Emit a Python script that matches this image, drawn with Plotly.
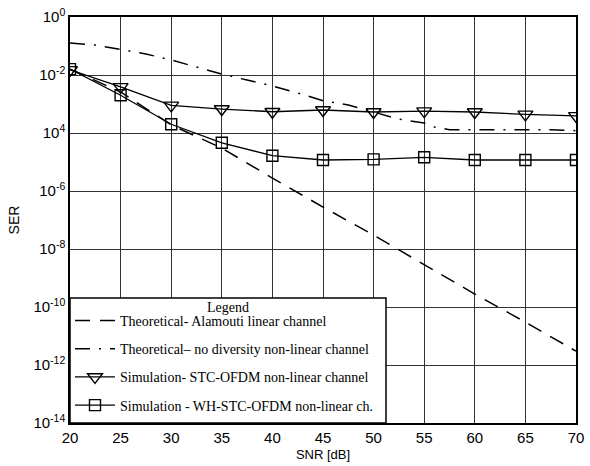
import plotly.graph_objects as go

snr = [20, 25, 30, 35, 40, 45, 50, 55, 60, 65, 70]
ser_alamouti = [1.6e-2, 2.6e-3, 1.9e-4, 3e-5, 2.8e-6, 2.8e-7, 3e-8, 2.8e-9, 2.8e-10, 3e-11, 3e-12]

snr_nodiv = [20, 22.5, 25, 27.5, 30, 32.5, 35, 37.5, 40, 42.5, 45, 47.5, 50, 52.5, 55, 56, 57.5, 60, 62.5, 65, 67.5, 70]
ser_nodiv = [1.26e-1, 1.08e-1, 7.6e-2, 5.3e-2, 3.3e-2, 1.9e-2, 1.07e-2, 6.7e-3, 4.2e-3, 2.4e-3, 1.3e-3, 9.3e-4,
             5.3e-4, 3.0e-4, 2.2e-4, 1.6e-4, 1.3e-4, 1.3e-4, 1.25e-4, 1.3e-4, 1.3e-4, 1.2e-4]

ser_stc = [1.5e-2, 3.9e-3, 9.0e-4, 6.7e-4, 5.4e-4, 6.2e-4, 5.3e-4, 5.7e-4, 5.3e-4, 4.4e-4, 3.9e-4]
ser_wh = [1.6e-2, 2.0e-3, 2.0e-4, 4.6e-5, 1.65e-5, 1.17e-5, 1.23e-5, 1.45e-5, 1.17e-5, 1.17e-5, 1.17e-5]

names = [
    "Theoretical- Alamouti linear channel",
    "Theoretical\u2013 no diversity non-linear channel",
    "Simulation- STC-OFDM non-linear channel",
    "Simulation - WH-STC-OFDM non-linear ch.",
]
legend_title = "Legend"

y_tickvals = [1e0, 1e-2, 1e-4, 1e-6, 1e-8, 1e-10, 1e-12, 1e-14]
y_ticktext = ["10<sup>0</sup>", "10<sup>-2</sup>", "10<sup>4</sup>", "10<sup>-6</sup>",
              "10<sup>-8</sup>", "10<sup>-10</sup>", "10<sup>-12</sup>", "10<sup>-14</sup>"]

W, H = 590, 466
ML, MR, MT, MB = 70, 14, 17, 43
pw, ph = W - ML - MR, H - MT - MB

fig = go.Figure()
fig.add_trace(go.Scatter(x=snr, y=ser_alamouti, mode="lines", name=names[0], legendgroup="a",
                         line=dict(color="black", width=1.5, dash="15px,10px")))
fig.add_trace(go.Scatter(x=snr_nodiv, y=ser_nodiv, mode="lines", name=names[1], legendgroup="b",
                         line=dict(color="black", width=1.5, dash="15px,9px,2px,9px")))
fig.add_trace(go.Scatter(x=snr, y=ser_stc, mode="lines+markers", name=names[2], legendgroup="c",
                         line=dict(color="black", width=1.3),
                         marker=dict(symbol="triangle-down-open", size=13, color="black",
                                     line=dict(width=1.4, color="black"))))
fig.add_trace(go.Scatter(x=snr, y=ser_wh, mode="lines+markers", name=names[3], legendgroup="d",
                         line=dict(color="black", width=1.3),
                         marker=dict(symbol="square-open", size=11, color="black",
                                     line=dict(width=1.4, color="black"))))

# legend frame (box with white fill over the grid)
box_right = (386 - ML) / pw
box_top = (423 - 298) / ph
fig.add_shape(type="rect", xref="paper", yref="paper", x0=0, x1=box_right, y0=0, y1=box_top,
              fillcolor="white", line=dict(color="black", width=1.5), layer="above")
fig.add_annotation(xref="paper", yref="paper", x=box_right / 2, y=(423 - 307) / ph,
                   text=legend_title, showarrow=False, xanchor="center", yanchor="middle",
                   font=dict(family="Liberation Serif, Times New Roman", size=14, color="black"))

fig.update_layout(
    width=W, height=H,
    margin=dict(l=ML, r=MR, t=MT, b=MB, autoexpand=False),
    paper_bgcolor="white", plot_bgcolor="white",
    font=dict(family="Liberation Sans, Arial", size=14, color="black"),
    showlegend=True,
    legend=dict(
        x=0, y=0.005, xanchor="left", yanchor="bottom",
        bgcolor="rgba(0,0,0,0)", borderwidth=0,
        font=dict(family="Liberation Serif, Times New Roman", size=14, color="black"),
        traceorder="grouped", tracegroupgap=7, itemwidth=40,
    ),
    xaxis=dict(
        range=[20, 70], dtick=5, tick0=20, automargin=False, ticklabeloverflow="allow",
        showgrid=True, gridcolor="#333333", gridwidth=1,
        showline=True, linecolor="black", linewidth=1.5, mirror=True,
        ticks="", zeroline=False,
        title=dict(text="SNR [dB]", font=dict(size=13), standoff=5),
        tickfont=dict(size=15),
    ),
    yaxis=dict(
        type="log", range=[-14, 0], automargin=False, ticklabeloverflow="allow",
        tickvals=y_tickvals, ticktext=y_ticktext,
        showgrid=True, gridcolor="#333333", gridwidth=1,
        showline=True, linecolor="black", linewidth=1.5, mirror=True,
        ticks="", zeroline=False,
        title=dict(text="SER", font=dict(size=14), standoff=10),
        tickfont=dict(size=15),
    ),
)

fig.write_html("out.html", config={"displayModeBar": False},
               post_script="document.body.style.margin='0';document.body.style.overflow='hidden';")
